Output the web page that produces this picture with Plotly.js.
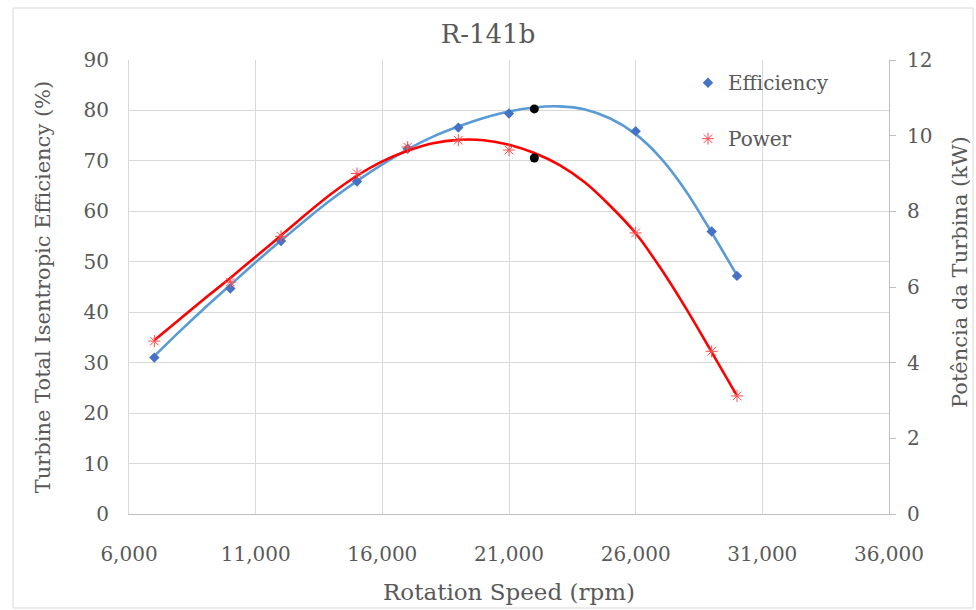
<!DOCTYPE html>
<html>
<head>
<meta charset="utf-8">
<script src="https://cdn.plot.ly/plotly-3.0.1.min.js"></script>
<style>html,body{margin:0;padding:0;background:#fff;}#chart{width:976px;height:610px;}</style>
</head>
<body>
<div id="chart"></div>
<script>
// Measured points
const rpm = [7000, 10000, 12000, 15000, 17000, 19000, 21000, 26000, 29000, 30000];
const efficiency = [31.0, 44.7, 54.1, 65.9, 72.4, 76.6, 79.4, 75.9, 56.0, 47.2];
const power = [4.57, 6.13, 7.34, 9.00, 9.70, 9.88, 9.62, 7.43, 4.30, 3.12];

// Highlighted operating point (black dots)
const opRpm = [22000];
const opEfficiency = [80.3];
const opPower = [9.41];

// Trend curves
const trendRpm = [7000, 8000, 9000, 10000, 11000, 12000, 13000, 14000, 15000, 16000, 17000, 18000, 19000, 20000, 21000, 22000, 23000, 24000, 25000, 26000, 27000, 28000, 29000, 30000];
const trendEfficiency = [31.3, 36.2, 40.9, 45.4, 49.9, 54.2, 58.4, 62.4, 66.0, 69.3, 72.3, 74.8, 76.8, 78.5, 79.8, 80.6, 80.8, 80.2, 78.4, 75.3, 70.5, 63.9, 55.8, 47.3];
const trendPower = [4.59, 5.15, 5.70, 6.24, 6.80, 7.36, 7.93, 8.47, 8.94, 9.32, 9.60, 9.80, 9.89, 9.88, 9.76, 9.54, 9.22, 8.76, 8.14, 7.42, 6.48, 5.42, 4.28, 3.12];

const xTicks = [6000, 11000, 16000, 21000, 26000, 31000, 36000];

const textColor = '#595959';
const serif = 'DejaVu Serif';

const traces = [
  {x: trendRpm, y: trendEfficiency, type: 'scatter', mode: 'lines', line: {color: '#5B9BD5', width: 2.6, shape: 'spline', smoothing: 0.8}, showlegend: false, hoverinfo: 'skip'},
  {x: trendRpm, y: trendPower, yaxis: 'y2', type: 'scatter', mode: 'lines', line: {color: '#FF0000', width: 2.6, shape: 'spline', smoothing: 0.8}, showlegend: false, hoverinfo: 'skip'},
  {x: rpm, y: efficiency, name: 'Efficiency', legendgroup: 'a', type: 'scatter', mode: 'markers', marker: {symbol: 'diamond', color: '#4472C4', size: 8}},
  {x: rpm, y: power, name: 'Power', legendgroup: 'b', yaxis: 'y2', type: 'scatter', mode: 'markers', marker: {symbol: 'asterisk-open', size: 10, color: '#FF4B4B', line: {color: '#FF4B4B', width: 1}}},
  {x: opRpm, y: opEfficiency, type: 'scatter', mode: 'markers', marker: {color: '#000000', size: 9}, showlegend: false},
  {x: opRpm, y: opPower, yaxis: 'y2', type: 'scatter', mode: 'markers', marker: {color: '#000000', size: 9}, showlegend: false}
];

const layout = {
  width: 976, height: 610,
  margin: {l: 129, r: 87, t: 60, b: 96},
  paper_bgcolor: '#ffffff', plot_bgcolor: '#ffffff',
  font: {family: serif, color: textColor, size: 20},
  title: {text: 'R-141b', font: {size: 26, color: textColor, family: serif}, x: 0.5, xanchor: 'center', y: 0.945, yanchor: 'middle'},
  showlegend: true,
  legend: {x: 0.7355, y: 0.993, xanchor: 'left', yanchor: 'top', bgcolor: 'rgba(0,0,0,0)', font: {size: 20, color: textColor, family: serif}, tracegroupgap: 27, traceorder: 'grouped'},
  xaxis: {
    range: [6000, 36000], tickvals: xTicks, tickformat: ',', showgrid: true, gridcolor: '#D9D9D9', gridwidth: 1,
    zeroline: false, showline: true, linecolor: '#BFBFBF', linewidth: 1.3, ticks: '', ticklabelstandoff: 22,
    tickfont: {size: 20, color: textColor, family: serif},
    title: {text: 'Rotation Speed (rpm)', font: {size: 23, color: textColor, family: serif}, standoff: 18}
  },
  yaxis: {
    range: [0, 90], dtick: 10, showgrid: true, gridcolor: '#D9D9D9', gridwidth: 1, zeroline: false,
    showline: true, linecolor: '#D9D9D9', linewidth: 1, ticks: '', ticklabelstandoff: 15,
    tickfont: {size: 20, color: textColor, family: serif},
    title: {text: 'Turbine Total Isentropic Efficiency (%)', font: {size: 21, color: textColor, family: serif}, standoff: 27}
  },
  yaxis2: {
    range: [0, 12], dtick: 2, overlaying: 'y', side: 'right', showgrid: false, zeroline: false,
    showline: true, linecolor: '#BFBFBF', linewidth: 1, ticks: 'outside', ticklen: 6, tickcolor: '#BFBFBF',
    ticklabelstandoff: 7,
    tickfont: {size: 20, color: textColor, family: serif}
  },
  annotations: [
    {text: 'Potência da Turbina (kW)', xref: 'paper', yref: 'paper', x: 1.0934, y: 0.533, xanchor: 'center', yanchor: 'middle', textangle: -90, showarrow: false, font: {size: 21, color: textColor, family: serif}}
  ],
  shapes: [
    {type: 'rect', xref: 'paper', yref: 'paper', x0: -0.1526, x1: 1.1105, y0: -0.207, y1: 1.1145, line: {color: '#D9D9D9', width: 1}, layer: 'below'}
  ]
};

Plotly.newPlot('chart', traces, layout, {staticPlot: true, displayModeBar: false});
</script>
</body>
</html>
